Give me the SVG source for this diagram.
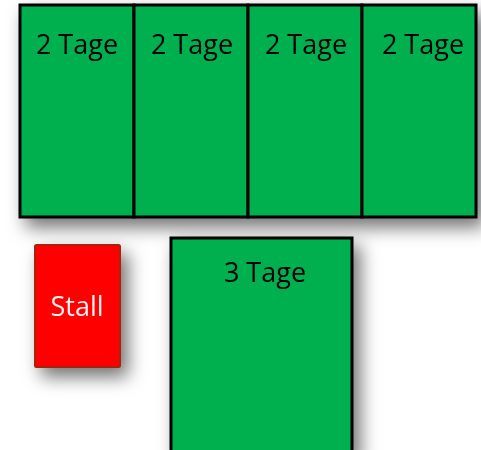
<svg xmlns="http://www.w3.org/2000/svg" width="481" height="450" viewBox="0 0 481 450">
  <defs>
    <filter id="shadow" x="-30%" y="-30%" width="170%" height="170%">
      <feDropShadow dx="7" dy="9" stdDeviation="9" flood-color="#000" flood-opacity="0.55"/>
    </filter>
    <style>
      .green { fill: #00b050; stroke: #000; stroke-width: 3; }
      .red { fill: #ff0000; stroke: #a8200d; stroke-width: 2; }
      .lbl { font-family: "Open Sans", "Noto Sans", "Liberation Sans", sans-serif; font-size: 27px; fill: #000; text-anchor: middle; }
      .lblw { font-family: "Open Sans", "Noto Sans", "Liberation Sans", sans-serif; font-size: 27px; fill: #f2f2f2; text-anchor: middle; }
    </style>
  </defs>
  <rect width="481" height="450" fill="#fff"/>
  <g filter="url(#shadow)">
    <g id="tage1">
      <rect class="green" x="20" y="5" width="114" height="212"/>
      <text class="lbl" x="77" y="54">2 Tage</text>
    </g>
    <g id="tage2">
      <rect class="green" x="134" y="5" width="114" height="212"/>
      <text class="lbl" x="192" y="54">2 Tage</text>
    </g>
    <g id="tage3">
      <rect class="green" x="248" y="5" width="114" height="212"/>
      <text class="lbl" x="306" y="54">2 Tage</text>
    </g>
    <g id="tage4">
      <rect class="green" x="362" y="5" width="114" height="212"/>
      <text class="lbl" x="423" y="54">2 Tage</text>
    </g>
  </g>
  <g id="stall" filter="url(#shadow)">
    <rect class="red" x="35" y="245" width="85" height="122" rx="1.5"/>
    <text class="lblw" x="77" y="316">Stall</text>
  </g>
  <g id="tage5" filter="url(#shadow)">
    <rect class="green" x="171" y="238" width="181" height="216"/>
    <text class="lbl" x="265" y="282">3 Tage</text>
  </g>
  <g id="connectors"/>
</svg>
